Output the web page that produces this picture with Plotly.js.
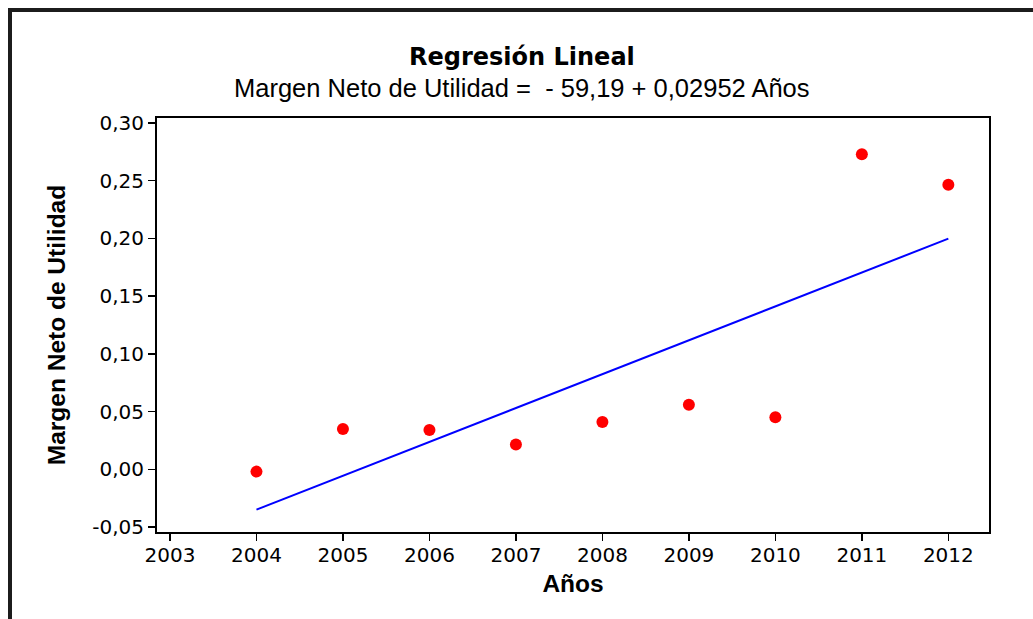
<!DOCTYPE html>
<html>
<head>
<meta charset="utf-8">
<script src="https://cdn.plot.ly/plotly-3.0.1.min.js"></script>
<style>
  html, body { margin: 0; padding: 0; background: #fff; }
  #wrap { position: relative; width: 1033px; height: 619px; }
  #chart { position: absolute; left: 0; top: 0; width: 1033px; height: 619px; }
  #frame { position: absolute; left: 8px; top: 8px; width: 1025px; height: 611px;
           border-top: 4px solid #1c1c1c; border-left: 4px solid #1c1c1c; box-sizing: border-box; pointer-events: none; }
</style>
</head>
<body>
<div id="wrap">
  <div id="chart"></div>
  <div id="frame"></div>
</div>
<script>
// Observed data
const years = [2004, 2005, 2006, 2007, 2008, 2009, 2010, 2011, 2012];
const margenNeto = [-0.002, 0.035, 0.034, 0.0215, 0.041, 0.056, 0.045, 0.273, 0.2465];

// Fitted regression line (at its ends)
const fitYears = [2004, 2012];
const fitValues = [-0.0349, 0.1998];

// Tick labels
const yTickVals = [-0.05, 0, 0.05, 0.10, 0.15, 0.20, 0.25, 0.30];
const yTickText = ["-0,05", "0,00", "0,05", "0,10", "0,15", "0,20", "0,25", "0,30"];
const xTickVals = [2003, 2004, 2005, 2006, 2007, 2008, 2009, 2010, 2011, 2012];
const xTickText = ["2003", "2004", "2005", "2006", "2007", "2008", "2009", "2010", "2011", "2012"];

const titleText = "Regresión Lineal";
const subtitleText = "Margen Neto de Utilidad =&nbsp;&nbsp;- 59,19 + 0,02952 Años";
const xTitle = "Años";
const yTitle = "Margen Neto de Utilidad";

const traces = [
  {
    x: fitYears, y: fitValues, type: "scatter", mode: "lines",
    line: { color: "#0000ff", width: 2 }, hoverinfo: "skip", showlegend: false
  },
  {
    x: years, y: margenNeto, type: "scatter", mode: "markers",
    marker: { color: "#ff0000", size: 12, line: { width: 0 } }, showlegend: false
  }
];

const tickFont = { family: "DejaVu Sans, Verdana, sans-serif", size: 20, color: "#000" };
const labelFont = { family: "Liberation Sans, Arial, sans-serif", size: 24.5, color: "#000", weight: "bold" };

const layout = {
  width: 1033, height: 619,
  margin: { l: 157, r: 44, t: 118, b: 87, pad: 0 },
  paper_bgcolor: "#fff", plot_bgcolor: "#fff",
  showlegend: false,
  xaxis: {
    range: [2002.85, 2012.47],
    tickvals: xTickVals, ticktext: xTickText,
    ticks: "outside", ticklen: 7, tickwidth: 1.5, tickcolor: "#000",
    ticklabelstandoff: -3,
    showline: true, linecolor: "#000", linewidth: 2, mirror: true,
    showgrid: false, zeroline: false,
    tickfont: tickFont,
    title: { text: xTitle, font: labelFont, standoff: 9 }
  },
  yaxis: {
    range: [-0.0543, 0.3043],
    tickvals: yTickVals, ticktext: yTickText,
    ticks: "outside", ticklen: 7, tickwidth: 1.5, tickcolor: "#000",
    showline: true, linecolor: "#000", linewidth: 2, mirror: true,
    showgrid: false, zeroline: false,
    tickfont: tickFont,
    title: { text: yTitle, font: labelFont, standoff: 20 }
  },
  annotations: [
    {
      text: titleText, xref: "paper", yref: "paper",
      x: (522 - 157) / (1033 - 157 - 44), y: 1 + (118 - 57) / (619 - 118 - 87),
      xanchor: "center", yanchor: "middle", showarrow: false,
      font: { family: "DejaVu Sans, Tahoma, sans-serif", size: 24, color: "#000", weight: "bold" }
    },
    {
      text: subtitleText, xref: "paper", yref: "paper",
      x: (522 - 157) / (1033 - 157 - 44), y: 1 + (118 - 88) / (619 - 118 - 87),
      xanchor: "center", yanchor: "middle", showarrow: false,
      font: { family: "Liberation Sans, Arial, sans-serif", size: 25.5, color: "#000" }
    }
  ]
};

Plotly.newPlot("chart", traces, layout, { staticPlot: true, displayModeBar: false });
</script>
</body>
</html>
